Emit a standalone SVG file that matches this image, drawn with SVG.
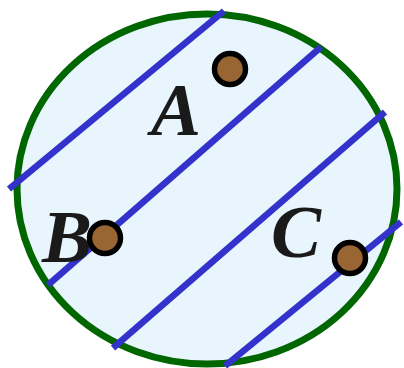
<svg xmlns="http://www.w3.org/2000/svg" width="404" height="368" viewBox="0 0 404 368">
<style>
.region{fill:#e8f5fd;stroke:#006600;stroke-width:7}
.ln{stroke:#3333cc;stroke-width:6.5;stroke-linecap:butt;fill:none}
.pt{fill:#996633;stroke:#000;stroke-width:5.5}
.lbl{font-family:"Liberation Serif","Times New Roman",serif;font-style:italic;font-weight:bold;font-size:75px;fill:#1a1a1a}
</style>
<rect width="404" height="368" fill="#fff"/>
<g id="region"><ellipse class="region" cx="207" cy="189" rx="190" ry="175"/></g>
<g id="connectors">
<line class="ln" x1="9" y1="189" x2="224" y2="11"/>
<line class="ln" x1="48" y1="285" x2="321" y2="47"/>
<line class="ln" x1="113" y1="348" x2="385" y2="112"/>
<line class="ln" x1="225" y1="366" x2="401" y2="222"/>
</g>
<g id="A"><text class="lbl" x="151" y="135">A</text><circle class="pt" cx="230" cy="69" r="15.5"/></g>
<g id="B"><text class="lbl" x="42" y="262">B</text><circle class="pt" cx="105" cy="238" r="15.5"/></g>
<g id="C"><text class="lbl" x="271" y="257">C</text><circle class="pt" cx="350" cy="258" r="15.5"/></g>
</svg>
